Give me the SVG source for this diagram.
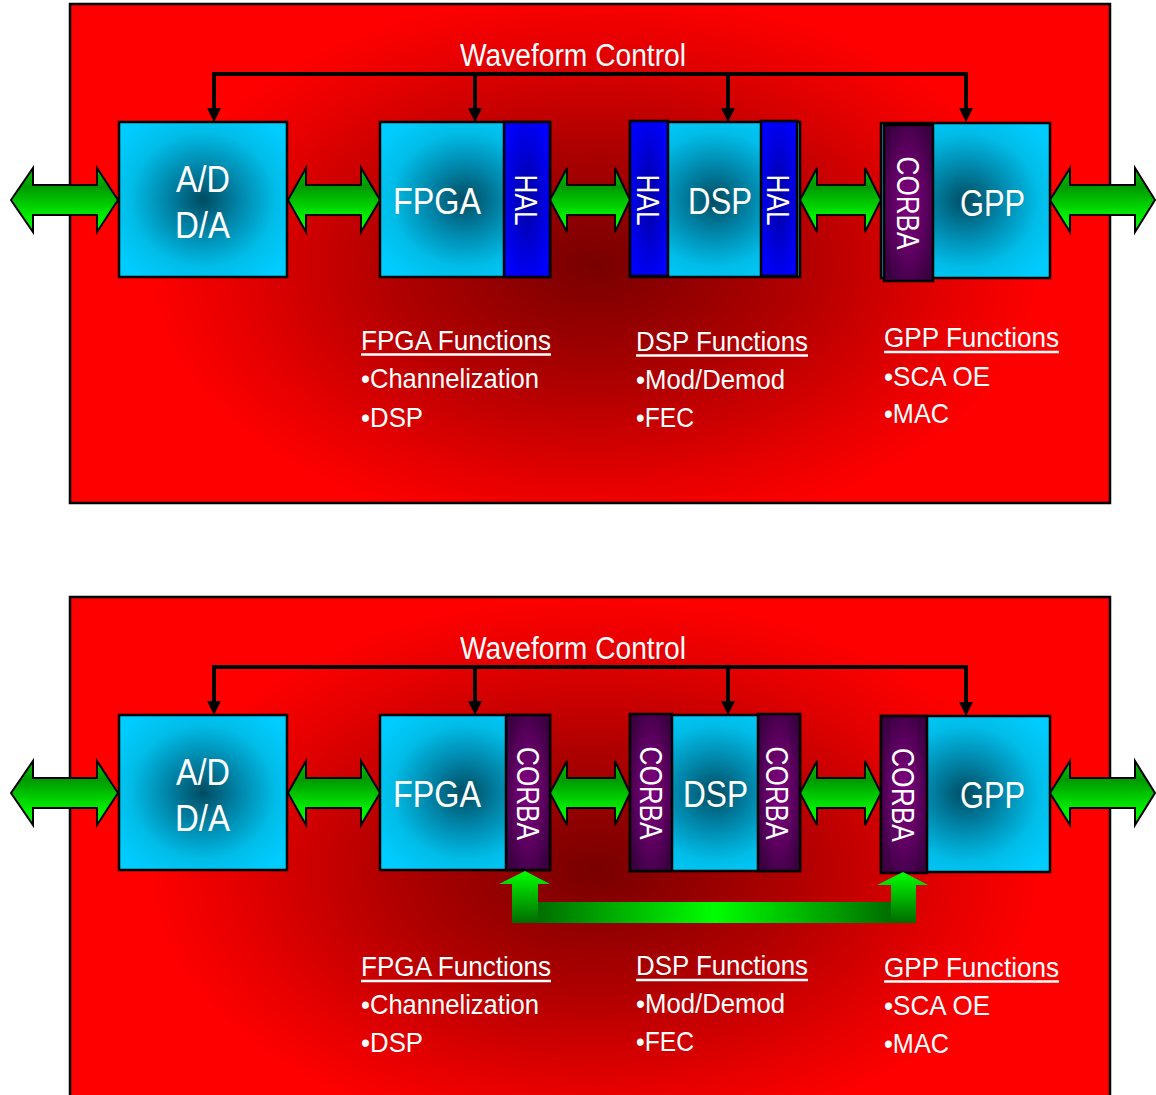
<svg xmlns="http://www.w3.org/2000/svg" width="1156" height="1095" viewBox="0 0 1156 1095">
  <defs>
    <radialGradient id="bgTop" gradientUnits="userSpaceOnUse" cx="0" cy="0" r="1" gradientTransform="translate(595 265) scale(450 275)">
      <stop offset="0" stop-color="#780000"/>
      <stop offset="0.45" stop-color="#b00000"/>
      <stop offset="0.8" stop-color="#e60000"/>
      <stop offset="1" stop-color="#ff0000"/>
    </radialGradient>
    <radialGradient id="bgBot" gradientUnits="userSpaceOnUse" cx="0" cy="0" r="1" gradientTransform="translate(595 870) scale(450 275)">
      <stop offset="0" stop-color="#780000"/>
      <stop offset="0.45" stop-color="#b00000"/>
      <stop offset="0.8" stop-color="#e60000"/>
      <stop offset="1" stop-color="#ff0000"/>
    </radialGradient>
    <radialGradient id="cyan" cx="0.5" cy="0.5" r="0.62">
      <stop offset="0" stop-color="#004c62"/>
      <stop offset="0.35" stop-color="#0086aa"/>
      <stop offset="0.7" stop-color="#00bde8"/>
      <stop offset="1" stop-color="#00ccff"/>
    </radialGradient>
    <radialGradient id="blue" cx="0.5" cy="0.5" r="0.6">
      <stop offset="0" stop-color="#0000a0"/>
      <stop offset="0.6" stop-color="#0000dd"/>
      <stop offset="1" stop-color="#0000ff"/>
    </radialGradient>
    <radialGradient id="purple" cx="0.5" cy="0.5" r="0.6">
      <stop offset="0" stop-color="#820082"/>
      <stop offset="0.6" stop-color="#5a005e"/>
      <stop offset="1" stop-color="#3a0040"/>
    </radialGradient>
    <linearGradient id="greenH" x1="0" y1="0" x2="0" y2="1">
      <stop offset="0" stop-color="#00c400"/>
      <stop offset="0.3" stop-color="#009a00"/>
      <stop offset="0.75" stop-color="#00ee00"/>
      <stop offset="1" stop-color="#00ff00"/>
    </linearGradient>
    <linearGradient id="greenUp" x1="0" y1="0" x2="0" y2="1">
      <stop offset="0" stop-color="#00ff00"/>
      <stop offset="1" stop-color="#006a00"/>
    </linearGradient>
    <linearGradient id="greenBar" x1="0" y1="0" x2="1" y2="0">
      <stop offset="0" stop-color="#006e00"/>
      <stop offset="0.5" stop-color="#00ff00"/>
      <stop offset="1" stop-color="#006e00"/>
    </linearGradient>
    <marker id="tip" viewBox="0 0 14 14" refX="4" refY="7" markerWidth="14" markerHeight="14" markerUnits="userSpaceOnUse" orient="auto">
      <path d="M0 0 L14 7 L0 14 Z" fill="#000"/>
    </marker>
  </defs>
  <style>
    .panel { stroke: #000; stroke-width: 2.5; }
    .box { fill: url(#cyan); stroke: #000; stroke-width: 2.5; }
    .hal { fill: url(#blue); stroke: #000; stroke-width: 2.5; }
    .corba { fill: url(#purple); stroke: #000; stroke-width: 2.5; }
    .dbl { fill: url(#greenH); stroke: #000; stroke-width: 2; stroke-linejoin: miter; }
    .ctl { fill: none; stroke: #000; stroke-width: 4; }
    .up { fill: url(#greenUp); }
    text { fill: #fff; font-family: "Liberation Sans Narrow", "Liberation Sans", Arial, sans-serif; }
    .big { font-size: 37px; }
    .side { font-size: 32px; }
    .title { font-size: 31px; }
    .fn { font-size: 28px; }
    .ul { stroke: #fff; stroke-width: 2.5; }
  </style>

  <!-- ===================== upper panel: HAL variant ===================== -->
  <g id="panel-top">
    <rect class="panel" x="70" y="4" width="1040" height="499" fill="url(#bgTop)"/>
  </g>

  <g id="ad-top">
    <rect class="box" x="119" y="122" width="168" height="155"/>
    <text class="big" x="176" y="192" textLength="54" lengthAdjust="spacingAndGlyphs">A/D</text>
    <text class="big" x="175" y="238" textLength="55" lengthAdjust="spacingAndGlyphs">D/A</text>
  </g>

  <g id="fpga-top">
    <rect class="box" x="380" y="122" width="170" height="155"/>
    <rect class="hal" x="504" y="122" width="46" height="155"/>
    <text class="big" x="393" y="214" textLength="88" lengthAdjust="spacingAndGlyphs">FPGA</text>
    <text class="side" transform="translate(526 200) rotate(90)" x="-25.5" y="11.5" textLength="51" lengthAdjust="spacingAndGlyphs">HAL</text>
  </g>

  <g id="dsp-top">
    <rect class="box" x="630" y="122" width="170" height="155"/>
    <rect class="hal" x="630" y="121" width="38" height="155"/>
    <rect class="hal" x="761" y="121" width="36" height="155"/>
    <text class="big" x="688" y="214" textLength="64" lengthAdjust="spacingAndGlyphs">DSP</text>
    <text class="side" transform="translate(648 200) rotate(90)" x="-25.5" y="11.5" textLength="51" lengthAdjust="spacingAndGlyphs">HAL</text>
    <text class="side" transform="translate(778 200) rotate(90)" x="-25.5" y="11.5" textLength="51" lengthAdjust="spacingAndGlyphs">HAL</text>
  </g>

  <g id="gpp-top">
    <rect class="box" x="881" y="123" width="169" height="155"/>
    <rect class="corba" x="884" y="125" width="49" height="156"/>
    <text class="big" x="960" y="216" textLength="65" lengthAdjust="spacingAndGlyphs">GPP</text>
    <text class="side" transform="translate(908 203) rotate(90)" x="-46.5" y="11.5" textLength="93" lengthAdjust="spacingAndGlyphs">CORBA</text>
  </g>

  <g id="fn-fpga-top">
    <text class="fn" x="361" y="350" textLength="190" lengthAdjust="spacingAndGlyphs">FPGA Functions</text>
    <line class="ul" x1="361" y1="354.5" x2="551" y2="354.5"/>
    <text class="fn" x="361" y="388" textLength="178" lengthAdjust="spacingAndGlyphs">•Channelization</text>
    <text class="fn" x="361" y="427" textLength="62" lengthAdjust="spacingAndGlyphs">•DSP</text>
  </g>
  <g id="fn-dsp-top">
    <text class="fn" x="636" y="351" textLength="172" lengthAdjust="spacingAndGlyphs">DSP Functions</text>
    <line class="ul" x1="636" y1="355.5" x2="808" y2="355.5"/>
    <text class="fn" x="636" y="389" textLength="149" lengthAdjust="spacingAndGlyphs">•Mod/Demod</text>
    <text class="fn" x="636" y="427" textLength="58" lengthAdjust="spacingAndGlyphs">•FEC</text>
  </g>
  <g id="fn-gpp-top">
    <text class="fn" x="884" y="347" textLength="175" lengthAdjust="spacingAndGlyphs">GPP Functions</text>
    <line class="ul" x1="884" y1="352" x2="1059" y2="352"/>
    <text class="fn" x="884" y="386" textLength="106" lengthAdjust="spacingAndGlyphs">•SCA OE</text>
    <text class="fn" x="884" y="423" textLength="65" lengthAdjust="spacingAndGlyphs">•MAC</text>
  </g>

  <g id="connectors-top">
    <text class="title" x="460" y="66" textLength="226" lengthAdjust="spacingAndGlyphs">Waveform Control</text>
    <line class="ctl" x1="214" y1="74" x2="966" y2="74" stroke-linecap="square"/>
    <path class="ctl" d="M214 74 V112" marker-end="url(#tip)"/>
    <path class="ctl" d="M475 74 V112" marker-end="url(#tip)"/>
    <path class="ctl" d="M728 74 V112" marker-end="url(#tip)"/>
    <path class="ctl" d="M966 74 V112" marker-end="url(#tip)"/>
    <path class="dbl" d="M11 200 L33 168 L33 185 L97 185 L97 168 L118 200 L97 232 L97 215 L33 215 L33 232 Z"/>
    <path class="dbl" d="M288 200 L306 168 L306 185 L361 185 L361 168 L380 200 L361 232 L361 215 L306 215 L306 232 Z"/>
    <path class="dbl" d="M550 200 L567 168 L567 185 L615 185 L615 168 L630 200 L615 232 L615 215 L567 215 L567 232 Z"/>
    <path class="dbl" d="M800 200 L817 168 L817 185 L865 185 L865 168 L881 200 L865 232 L865 215 L817 215 L817 232 Z"/>
    <path class="dbl" d="M1050 200 L1070 168 L1070 185 L1135 185 L1135 168 L1155 200 L1135 232 L1135 215 L1070 215 L1070 232 Z"/>
  </g>

  <!-- ===================== lower panel: CORBA variant ===================== -->
  <g id="panel-bottom">
    <rect class="panel" x="70" y="597" width="1040" height="512" fill="url(#bgBot)"/>
  </g>

  <g id="ad-bottom">
    <rect class="box" x="119" y="715" width="168" height="155"/>
    <text class="big" x="176" y="785" textLength="54" lengthAdjust="spacingAndGlyphs">A/D</text>
    <text class="big" x="175" y="831" textLength="55" lengthAdjust="spacingAndGlyphs">D/A</text>
  </g>

  <g id="fpga-bottom">
    <rect class="box" x="380" y="715" width="170" height="155"/>
    <rect class="corba" x="506" y="715" width="44" height="155"/>
    <text class="big" x="393" y="807" textLength="88" lengthAdjust="spacingAndGlyphs">FPGA</text>
    <text class="side" transform="translate(528 793.5) rotate(90)" x="-46.5" y="11.5" textLength="93" lengthAdjust="spacingAndGlyphs">CORBA</text>
  </g>

  <g id="dsp-bottom">
    <rect class="box" x="630" y="715" width="170" height="156"/>
    <rect class="corba" x="630" y="714" width="42" height="157"/>
    <rect class="corba" x="758" y="714" width="42" height="157"/>
    <text class="big" x="683" y="807" textLength="65" lengthAdjust="spacingAndGlyphs">DSP</text>
    <text class="side" transform="translate(651 793) rotate(90)" x="-46.5" y="11.5" textLength="93" lengthAdjust="spacingAndGlyphs">CORBA</text>
    <text class="side" transform="translate(777.5 793) rotate(90)" x="-46.5" y="11.5" textLength="93" lengthAdjust="spacingAndGlyphs">CORBA</text>
  </g>

  <g id="gpp-bottom">
    <rect class="box" x="881" y="716" width="169" height="156"/>
    <rect class="corba" x="881" y="716" width="46" height="157"/>
    <text class="big" x="960" y="808" textLength="65" lengthAdjust="spacingAndGlyphs">GPP</text>
    <text class="side" transform="translate(903 795) rotate(90)" x="-47" y="11.5" textLength="94" lengthAdjust="spacingAndGlyphs">CORBA</text>
  </g>

  <g id="fn-fpga-bottom">
    <text class="fn" x="361" y="976" textLength="190" lengthAdjust="spacingAndGlyphs">FPGA Functions</text>
    <line class="ul" x1="361" y1="981" x2="551" y2="981"/>
    <text class="fn" x="361" y="1014" textLength="178" lengthAdjust="spacingAndGlyphs">•Channelization</text>
    <text class="fn" x="361" y="1052" textLength="62" lengthAdjust="spacingAndGlyphs">•DSP</text>
  </g>
  <g id="fn-dsp-bottom">
    <text class="fn" x="636" y="975" textLength="172" lengthAdjust="spacingAndGlyphs">DSP Functions</text>
    <line class="ul" x1="636" y1="980" x2="808" y2="980"/>
    <text class="fn" x="636" y="1013" textLength="149" lengthAdjust="spacingAndGlyphs">•Mod/Demod</text>
    <text class="fn" x="636" y="1051" textLength="58" lengthAdjust="spacingAndGlyphs">•FEC</text>
  </g>
  <g id="fn-gpp-bottom">
    <text class="fn" x="884" y="977" textLength="175" lengthAdjust="spacingAndGlyphs">GPP Functions</text>
    <line class="ul" x1="884" y1="981.5" x2="1059" y2="981.5"/>
    <text class="fn" x="884" y="1015" textLength="106" lengthAdjust="spacingAndGlyphs">•SCA OE</text>
    <text class="fn" x="884" y="1053" textLength="65" lengthAdjust="spacingAndGlyphs">•MAC</text>
  </g>

  <g id="connectors-bottom">
    <text class="title" x="460" y="659" textLength="226" lengthAdjust="spacingAndGlyphs">Waveform Control</text>
    <line class="ctl" x1="214" y1="667" x2="966" y2="667" stroke-linecap="square"/>
    <path class="ctl" d="M214 667 V705" marker-end="url(#tip)"/>
    <path class="ctl" d="M475 667 V705" marker-end="url(#tip)"/>
    <path class="ctl" d="M728 667 V705" marker-end="url(#tip)"/>
    <path class="ctl" d="M966 667 V706" marker-end="url(#tip)"/>
    <path class="dbl" d="M11 793 L33 761 L33 778 L97 778 L97 761 L118 793 L97 825 L97 808 L33 808 L33 825 Z"/>
    <path class="dbl" d="M288 793 L306 761 L306 778 L361 778 L361 761 L380 793 L361 825 L361 808 L306 808 L306 825 Z"/>
    <path class="dbl" d="M550 793 L567 761 L567 778 L615 778 L615 761 L630 793 L615 825 L615 808 L567 808 L567 825 Z"/>
    <path class="dbl" d="M800 793 L817 761 L817 778 L865 778 L865 761 L881 793 L865 825 L865 808 L817 808 L817 825 Z"/>
    <path class="dbl" d="M1050 793 L1070 761 L1070 778 L1135 778 L1135 761 L1155 793 L1135 825 L1135 808 L1070 808 L1070 825 Z"/>
    <!-- CORBA bus linking FPGA and GPP -->
    <rect x="538" y="902" width="353" height="21" fill="url(#greenBar)"/>
    <path class="up" d="M525 871 L550 884 L538 884 L538 923 L512 923 L512 884 L499 884 Z"/>
    <path class="up" d="M903 872 L928 885 L916 885 L916 923 L891 923 L891 885 L877 885 Z"/>
  </g>
</svg>
